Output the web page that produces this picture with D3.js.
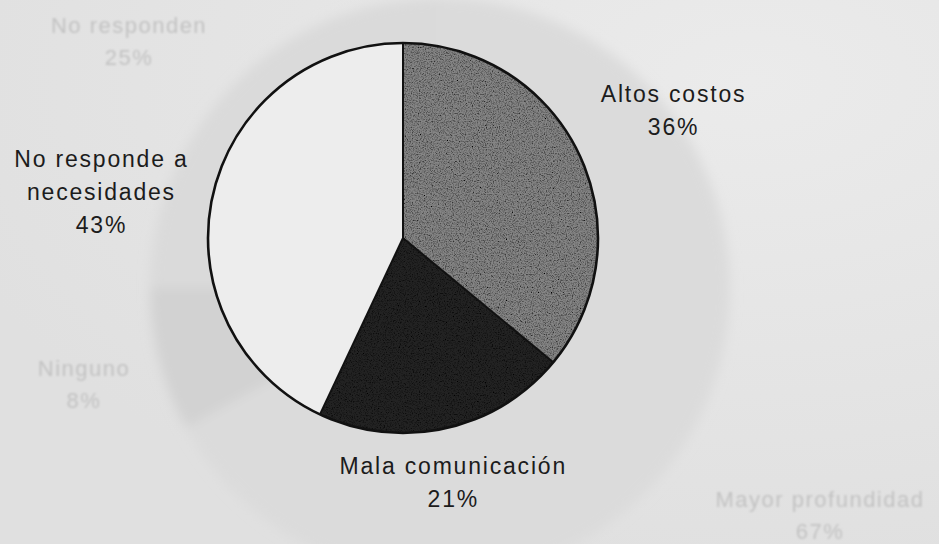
<!DOCTYPE html>
<html>
<head>
<meta charset="utf-8">
<script src="https://cdn.jsdelivr.net/npm/d3@7"></script>
<style>
  body { margin: 0; background: #e4e4e4; }
  svg { display: block; }
</style>
</head>
<body>
<div id="grafico"></div>
<script>
// datos de la grafica
const categorias = ["Altos costos", "Mala comunicación", "No responde a necesidades"];
const porcentajes = [36, 21, 43];
const lineasEtiqueta = [["Altos costos"], ["Mala comunicación"], ["No responde a", "necesidades"]];

// lo que se transparenta del reverso de la hoja
const categoriasReverso = ["No responden", "Ninguno", "Mayor profundidad"];
const porcentajesReverso = [25, 8, 67];

var width = 939, height = 544;
var cx = 403, cy = 238, radio = 195;

var rellenos = ["#858585", "#242424", "#ededed"];
// radio y giro (grados) de cada etiqueta
var ajuste = [{r: 299, da: 0}, {r: 250, da: 1}, {r: 305, da: -4}];

var svg = d3.select("#grafico")
  .append("svg")
    .attr("width", width)
    .attr("height", height);

var defs = svg.append("defs");

// grano del papel escaneado
var grano = defs.append("filter").attr("id", "grano")
  .attr("x", 0).attr("y", 0).attr("width", "100%").attr("height", "100%");
grano.append("feTurbulence").attr("type", "fractalNoise")
  .attr("baseFrequency", 0.85).attr("numOctaves", 2).attr("seed", 4).attr("result", "ruido");
grano.append("feColorMatrix").attr("in", "ruido").attr("type", "saturate").attr("values", 0).attr("result", "gris");
var ct = grano.append("feComponentTransfer").attr("in", "gris").attr("result", "contraste");
["feFuncR", "feFuncG", "feFuncB"].forEach(function(f) {
  ct.append(f).attr("type", "linear").attr("slope", 2.8).attr("intercept", -0.6);
});
ct.append("feFuncA").attr("type", "table").attr("tableValues", "1 1");
grano.append("feBlend").attr("in", "SourceGraphic").attr("in2", "contraste").attr("mode", "multiply").attr("result", "mezcla");
grano.append("feComposite").attr("in", "mezcla").attr("in2", "SourceAlpha").attr("operator", "in");

var difuso = defs.append("filter").attr("id", "difuso")
  .attr("x", "-20%").attr("y", "-20%").attr("width", "140%").attr("height", "140%");
difuso.append("feGaussianBlur").attr("stdDeviation", 6);

var difusoTexto = defs.append("filter").attr("id", "difusoTexto");
difusoTexto.append("feGaussianBlur").attr("stdDeviation", 1);

// fondo con degradado suave
var grad = defs.append("radialGradient").attr("id", "papel")
  .attr("cx", "80%").attr("cy", "15%").attr("r", "90%");
grad.append("stop").attr("offset", "0%").attr("stop-color", "#ebebeb");
grad.append("stop").attr("offset", "100%").attr("stop-color", "#e0e0e0");
svg.append("rect").attr("width", width).attr("height", height).attr("fill", "url(#papel)");

// pastel fantasma del reverso (espejado)
var pie = d3.pie().sort(null).value(function(d) { return d; });
var fantasma = svg.append("g")
  .attr("transform", "translate(440,288) scale(-1,1)")
  .attr("filter", "url(#difuso)");
var arcoFantasma = d3.arc().innerRadius(0).outerRadius(290);
fantasma.selectAll("path")
  .data(pie(porcentajesReverso))
  .enter()
  .append("path")
    .attr("d", arcoFantasma)
    .attr("fill", function(d, i) { return ["#dadada", "#d2d2d2", "#dbdbdb"][i]; });

var posReverso = [[129, 33], [84, 376], [820, 507]];
categoriasReverso.forEach(function(c, i) {
  var t = svg.append("text")
    .attr("text-anchor", "middle")
    .attr("font-family", "'Liberation Sans', Arial, sans-serif")
    .attr("font-size", "22px")
    .attr("letter-spacing", "1.5px")
    .attr("fill", "#c2c2c2")
    .attr("filter", "url(#difusoTexto)");
  t.append("tspan").attr("x", posReverso[i][0]).attr("y", posReverso[i][1]).text(c);
  t.append("tspan").attr("x", posReverso[i][0]).attr("dy", 32).text(porcentajesReverso[i] + "%");
});

// pastel principal
var g = svg.append("g").attr("transform", "translate(" + cx + "," + cy + ")");
var arco = d3.arc().innerRadius(0).outerRadius(radio);
var datosPie = pie(porcentajes);

g.selectAll("path.relleno")
  .data(datosPie)
  .enter()
  .append("path")
    .attr("class", "relleno")
    .attr("d", arco)
    .attr("fill", function(d, i) { return rellenos[i]; })
    .attr("filter", function(d, i) { return i < 2 ? "url(#grano)" : null; });

// lineas radiales
g.selectAll("line.radio")
  .data(datosPie)
  .enter()
  .append("line")
    .attr("class", "radio")
    .attr("x1", 0).attr("y1", 0)
    .attr("x2", function(d) { return radio * Math.sin(d.startAngle); })
    .attr("y2", function(d) { return -radio * Math.cos(d.startAngle); })
    .attr("stroke", "#111")
    .attr("stroke-width", 2);

g.append("circle")
  .attr("r", radio)
  .attr("fill", "none")
  .attr("stroke", "#111")
  .attr("stroke-width", 2.6);

// etiquetas
var interlinea = 33;
datosPie.forEach(function(d, i) {
  var ang = (d.startAngle + d.endAngle) / 2 + ajuste[i].da * Math.PI / 180;
  var lx = ajuste[i].r * Math.sin(ang);
  var ly = -ajuste[i].r * Math.cos(ang);
  var lineas = lineasEtiqueta[i].concat([porcentajes[i] + "%"]);
  var t = g.append("text")
    .attr("text-anchor", "middle")
    .attr("font-family", "'Liberation Sans', Arial, sans-serif")
    .attr("font-size", "23px")
    .attr("letter-spacing", "1.8px")
    .attr("fill", "#1c1c1c");
  lineas.forEach(function(l, k) {
    t.append("tspan")
      .attr("x", lx)
      .attr("y", ly + (k - (lineas.length - 1) / 2) * interlinea)
      .attr("dy", "0.35em")
      .text(l);
  });
});
</script>
</body>
</html>
